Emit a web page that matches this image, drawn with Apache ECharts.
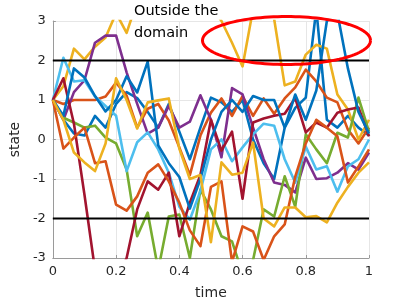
<!DOCTYPE html>
<html>
<head>
<meta charset="utf-8">
<script src="https://cdn.jsdelivr.net/npm/echarts@6/dist/echarts.min.js"></script>
<style>html,body{margin:0;padding:0;background:#fff;}#c{width:407px;height:305px;}</style>
</head>
<body>
<div id="c"></div>
<script>
var time = [0,0.0333,0.0667,0.1,0.1333,0.1667,0.2,0.2333,0.2667,0.3,0.3333,0.3667,0.4,0.4333,0.4667,0.5,0.5333,0.5667,0.6,0.6333,0.6667,0.7,0.7333,0.7667,0.8,0.8333,0.8667,0.9,0.9333,0.9667,1];
var blueA   = [1,0.5,0.15,0.1,0.6,0.3,0.9,1.2,1.05,0.7,0.3,0.9,0.2,-0.5,0.3,1.06,0.94,0.7,1.0,0.0,-0.6,-1.0,0.3,0.8,1.06,3.3,0.5,0.3,0.6,0.3,0.1];
var orange1 = [1,0.9,1.0,1.0,1.0,1.09,1.44,1.11,0.3,0.78,0.9,0.48,-0.2,-0.9,0.1,0.68,1.04,0.6,1.1,0.6,1.04,0.65,1.04,1.32,1.77,1.47,1.06,0.94,0.25,-0.1,0.3];
var yellow1 = [1,1.35,2.3,2.03,2.35,2.58,3.2,2.7,3.5,3.8,3.6,3.9,4.0,3.7,3.5,3.4,3.0,2.45,1.85,3.3,3.5,3.05,1.37,1.47,2.15,2.4,2.3,1.14,0.76,0.0,0.5];
var purple  = [1,0.5,1.2,1.5,2.45,2.63,2.63,1.7,0.9,0.15,0.3,0.85,0.3,0.45,1.12,0.5,-0.45,1.3,1.14,0.3,-0.5,-1.09,-1.15,-1.34,-0.46,-1.0,-0.98,-0.84,-0.6,-0.76,-0.33];
var green   = [1,0.55,0.43,0.3,0.35,0.05,-0.1,-0.76,-2.45,-1.85,-3.3,-1.95,-1.9,-3.0,-1.27,-1.77,-2.45,-2.58,-3.4,-3.05,-1.77,-1.95,-0.93,-1.7,0.13,-0.25,-0.6,0.17,0.05,1.06,0.2];
var lightblue = [1,2.07,1.47,1.5,1.09,0.85,0.6,-0.8,-0.07,0.18,-0.25,-0.84,-1.7,-2.03,-1.3,-0.25,0.0,-0.55,-0.2,0.13,0.4,0.35,-0.5,-1.09,-0.18,-0.76,-0.68,-1.32,-0.68,-0.5,0.0];
var darkred = [1,1.55,0.4,-1.4,-3.3,-4.0,-3.6,-3.0,-1.77,-1.06,-1.27,-0.84,-2.45,-1.6,-0.9,0.5,-0.28,0.2,-1.5,0.43,0.53,0.6,0.65,1.05,0.18,0.43,0.3,0.68,0.76,0.81,0.08];
var blueB   = [1,0.6,1.8,1.57,1.1,0.71,1.0,1.6,1.19,1.97,-0.15,-0.6,-0.95,-1.75,-1.0,0.0,0.7,1.0,0.7,1.1,1.0,1.0,0.3,1.14,0.5,1.24,3.0,3.2,1.8,0.7,0.15];
var orange2 = [1,-0.23,0.05,0.3,-0.6,-0.55,-1.65,-1.8,-1.44,-0.84,-0.63,-1.06,-1.6,-2.3,-2.7,-1.2,-1.06,-3.1,-2.2,-2.33,-3.05,-2.45,-2.15,-0.94,-0.1,0.5,0.3,0.08,-1.09,-0.68,-0.25];
var yellow2 = [1,0.5,-0.33,-0.58,-0.8,-0.1,1.55,1.0,0.28,0.94,0.99,1.04,-0.23,-1.0,-0.9,-2.6,-0.58,-0.89,-0.84,-0.08,-2.0,-2.2,-1.72,-1.72,-1.97,-1.94,-2.1,-1.6,-1.2,-0.84,-0.58];
var boundaries = [2, -2];
var xTicks = [0, 0.2, 0.4, 0.6, 0.8, 1];
var yTicks = [-3, -2, -1, 0, 1, 2, 3];
var annotationLines = ['Outside the', 'domain'];

var paths = [
  {v: blueA, c: '#0072BD'}, {v: orange1, c: '#D95319'}, {v: yellow1, c: '#EDB120'},
  {v: purple, c: '#7E2F8E'}, {v: green, c: '#77AC30'}, {v: lightblue, c: '#4DBEEE'},
  {v: darkred, c: '#A2142F'}, {v: blueB, c: '#0072BD'}, {v: orange2, c: '#D95319'},
  {v: yellow2, c: '#EDB120'}
];
var FONT = 'DejaVu Sans';
var series = paths.map(function (p) {
  return {
    type: 'line', showSymbol: false, symbol: 'none', clip: true, animation: false,
    lineStyle: {color: p.c, width: 2.6, join: 'round'},
    data: time.map(function (t, i) { return [t, p.v[i]]; })
  };
});
boundaries.forEach(function (b) {
  series.push({
    type: 'line', showSymbol: false, symbol: 'none', animation: false,
    lineStyle: {color: '#000', width: 2},
    data: [[xTicks[0], b], [xTicks[xTicks.length - 1], b]]
  });
});

var chart = echarts.init(document.getElementById('c'), null, {renderer: 'canvas'});
var ellipsePts = [];
for (var k = 0; k <= 120; k++) {
  var a = k / 120 * Math.PI * 2;
  ellipsePts.push([286.5 + 84 * Math.cos(a), 40.5 + 24 * Math.sin(a)]);
}
chart.setOption({
  animation: false,
  grid: {left: 52, right: 38, top: 21, bottom: 46, containLabel: false},
  xAxis: {
    type: 'value', min: 0, max: 1, interval: 0.2,
    name: 'time', nameLocation: 'middle', nameGap: 28,
    nameTextStyle: {fontFamily: FONT, fontSize: 14, color: '#262626'},
    axisLine: {show: true, onZero: false, lineStyle: {color: '#9a9a9a', width: 1}},
    axisTick: {show: true, inside: true, length: 3, lineStyle: {color: '#9a9a9a'}},
    axisLabel: {margin: 7, fontFamily: FONT, fontSize: 13, color: '#262626',
      formatter: function (v) { return String(+v.toFixed(1)); }},
    splitLine: {show: true, lineStyle: {color: '#e6e6e6', width: 1}}
  },
  yAxis: {
    type: 'value', min: -3, max: 3, interval: 1,
    name: 'state', nameLocation: 'middle', nameGap: 22, nameRotate: 90,
    nameTextStyle: {fontFamily: FONT, fontSize: 14, color: '#262626'},
    axisLine: {show: true, onZero: false, lineStyle: {color: '#9a9a9a', width: 1}},
    axisTick: {show: true, inside: true, length: 3, lineStyle: {color: '#9a9a9a'}},
    axisLabel: {margin: 7, fontFamily: FONT, fontSize: 13, color: '#262626'},
    splitLine: {show: true, lineStyle: {color: '#e6e6e6', width: 1}}
  },
  series: series,
  graphic: [
    {type: 'text', x: 134, y: 11, z: 100, style: {text: annotationLines[0], font: '14.5px "' + FONT + '"', fill: '#000', verticalAlign: 'middle', align: 'left'}},
    {type: 'text', x: 134, y: 33, z: 100, style: {text: annotationLines[1], font: '14.5px "' + FONT + '"', fill: '#000', verticalAlign: 'middle', align: 'left'}},
    {type: 'polyline', z: 100, shape: {points: ellipsePts}, style: {stroke: '#ff0000', lineWidth: 3, fill: null}}
  ]
});
</script>
</body>
</html>
